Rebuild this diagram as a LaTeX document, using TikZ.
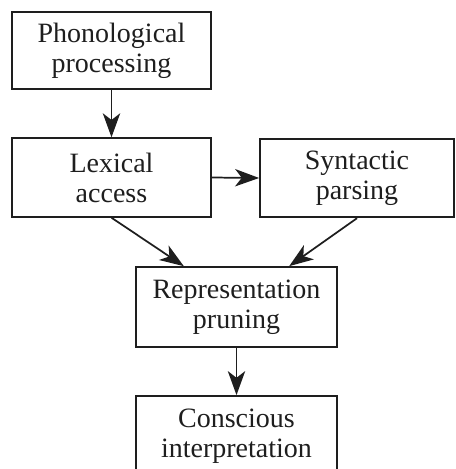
\documentclass[tikz,border=0pt]{standalone}
\usepackage{fontspec}
\setmainfont{Liberation Serif}
\usetikzlibrary{arrows.meta,calc}
\definecolor{ink}{HTML}{1E1E1E}
\begin{document}
\begin{tikzpicture}[x=0.75pt,y=-0.75pt,
  stage/.style={draw=ink, line width=1.3pt, text=ink, inner sep=0pt,
    align=center, minimum height=59pt,
    font=\fontsize{21pt}{22.5pt}\selectfont},
  flow/.style={draw=ink, line width=1.3pt,
    -{Stealth[length=18pt,width=13pt,inset=5pt]}}]
  \useasboundingbox (0,0) rectangle (455,469);
  % stage boxes
  \node[stage, minimum width=149.25pt, minimum height=57.75pt] (phon) at (111.5,50.5) {Phonological\\processing};
  \node[stage, minimum width=149.25pt] (lex) at (111.5,177.5) {Lexical\\access};
  \node[stage, minimum width=145.5pt] (syn) at (357,178) {Syntactic\\parsing};
  \node[stage, minimum width=150.75pt, minimum height=60pt] (rep) at (236.5,307) {Representation\\pruning};
  \node[stage, minimum width=150.75pt, minimum height=60pt] (con) at (236.5,436) {Conscious\\interpretation};
  % connectors
  \draw[flow] (phon.south) -- (lex.north);
  \draw[flow] (lex.east) -- (syn.west);
  \draw[flow] (lex.south) -- ($(rep.north west)!0.24!(rep.north east)$);
  \draw[flow] (syn.south) -- ($(rep.north west)!0.76!(rep.north east)$);
  \draw[flow] (rep.south) -- (con.north);
\end{tikzpicture}
\end{document}
